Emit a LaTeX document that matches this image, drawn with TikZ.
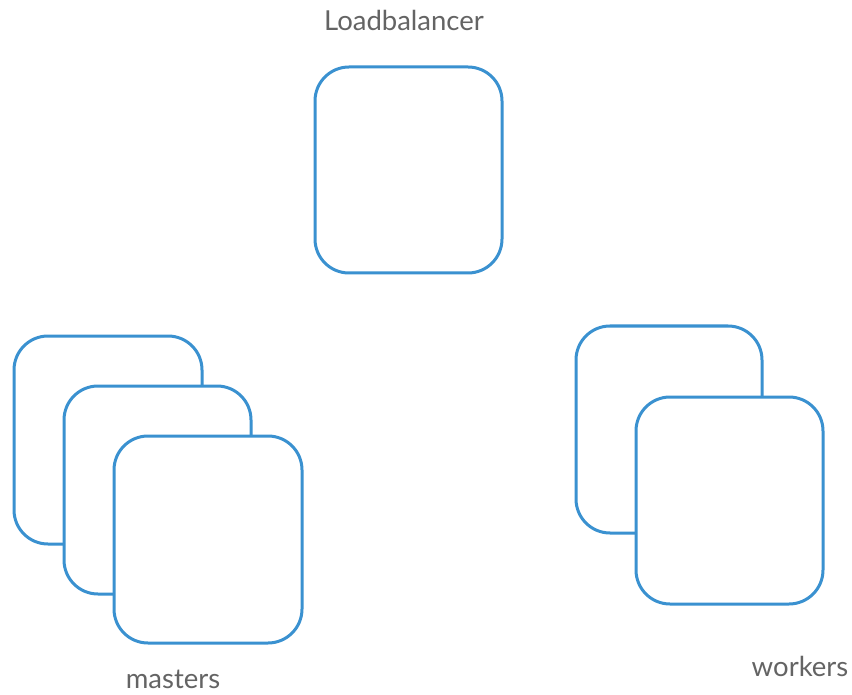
\documentclass[tikz,border=0pt]{standalone}
\usepackage{fontspec}
\setmainfont{Lato}
\definecolor{boxblue}{RGB}{58,145,208}
\definecolor{labelgray}{RGB}{100,100,100}
\begin{document}
\begin{tikzpicture}[x=1pt,y=-1pt,
  srv/.style={draw=boxblue,line width=3pt,fill=white,rounded corners=34pt},
  lbl/.style={text=labelgray,font=\fontsize{27.5}{31}\selectfont,inner sep=0pt,anchor=base}]
\useasboundingbox[fill=white] (0,0) rectangle (852,695);
% Loadbalancer
\draw[srv] (315,67) rectangle (502,273);
\node[lbl] (lbt) at (404,31) {Loadbalancer};
% masters
\draw[srv] (14,336) rectangle (202,544);
\draw[srv] (64,386) rectangle (251,594);
\draw[srv] (114,436) rectangle (302,643);
\node[lbl] (mst) at (173,688) {masters};
% workers
\draw[srv] (576,326) rectangle (762,533);
\draw[srv] (636,397) rectangle (823,604);
\node[lbl] (wrk) at (800,676) {workers};
\end{tikzpicture}
\end{document}
